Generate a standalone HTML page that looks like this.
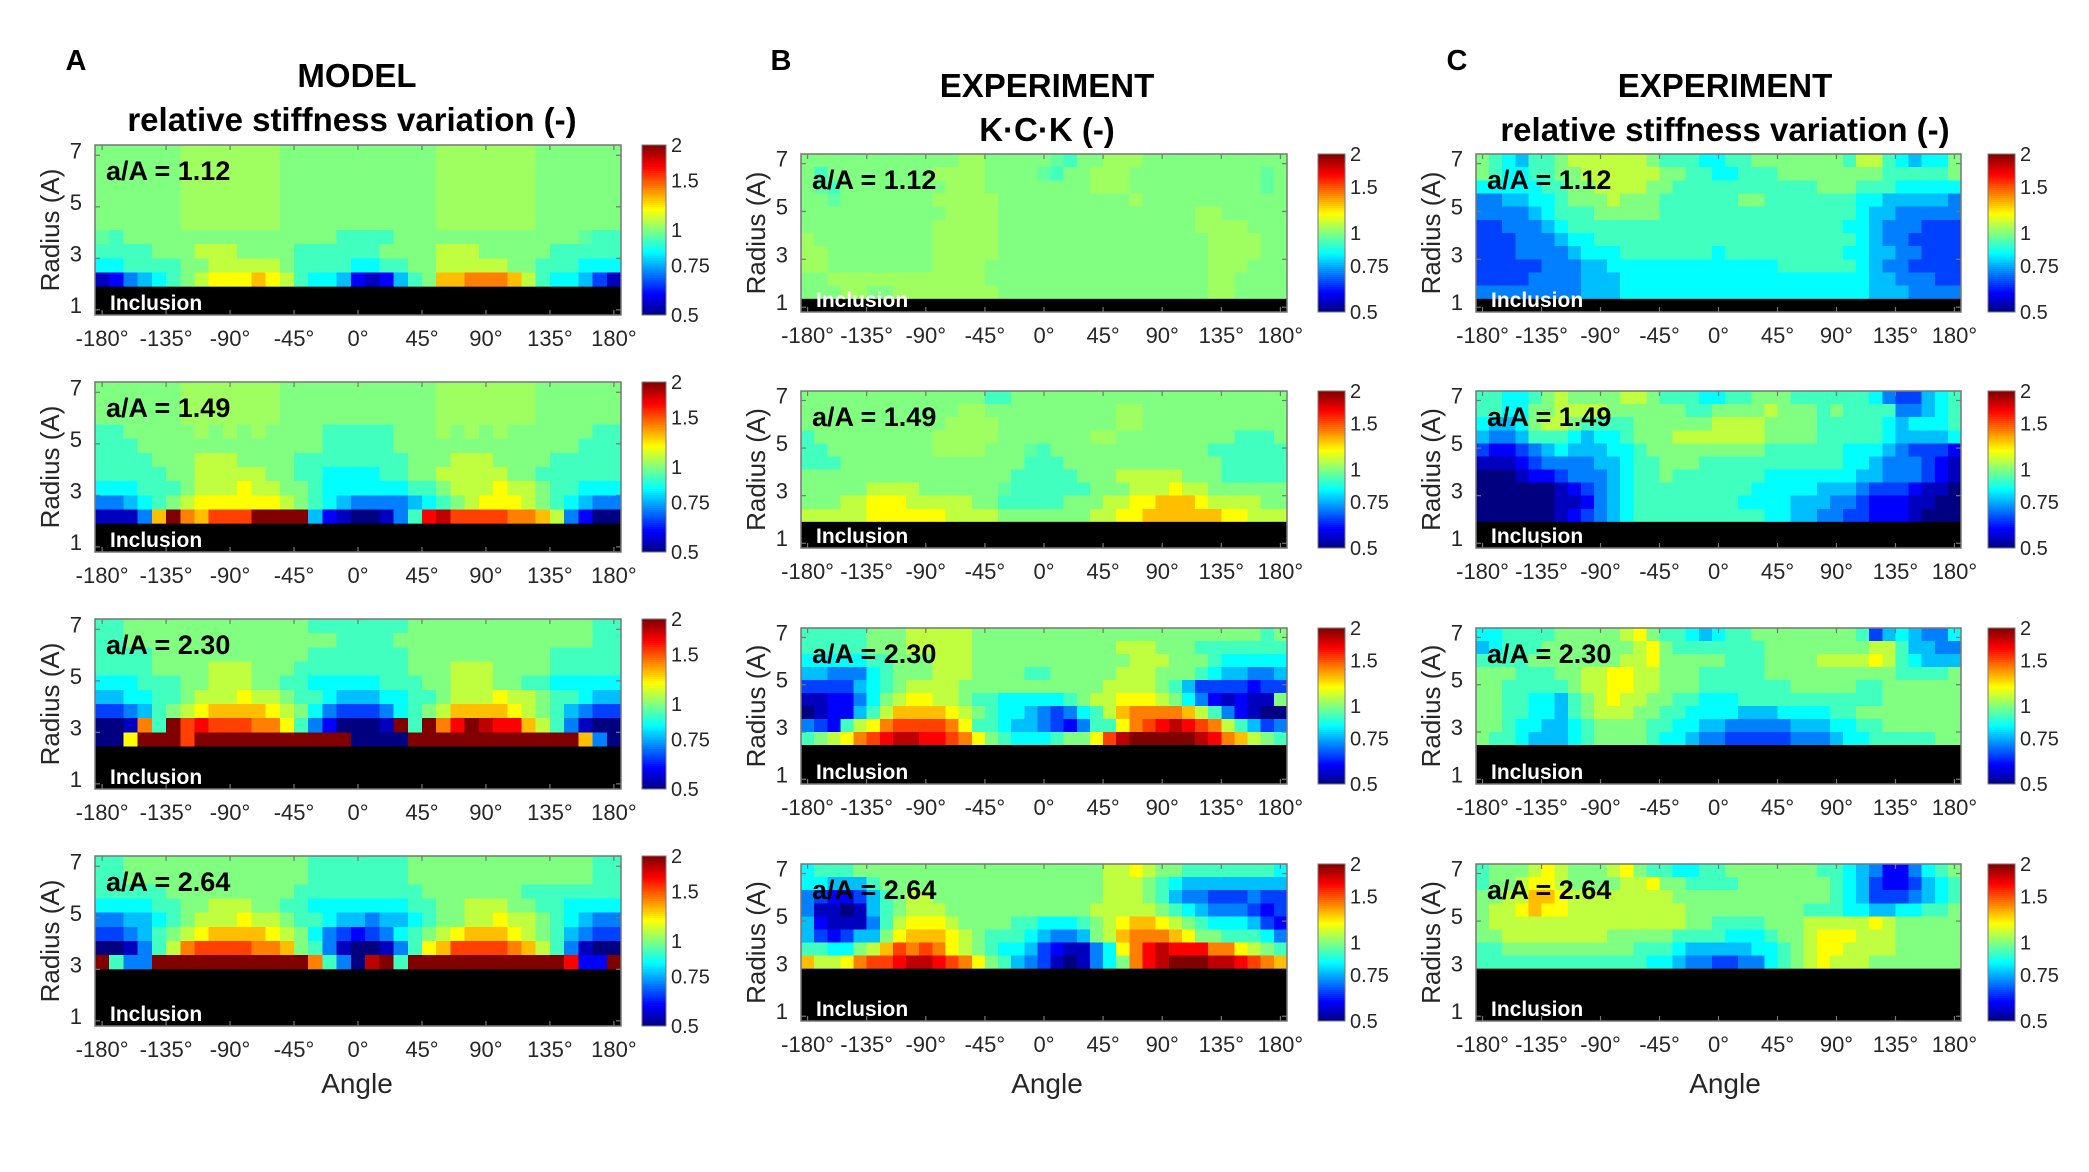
<!DOCTYPE html>
<html><head><meta charset="utf-8"><style>
html,body{margin:0;padding:0;background:#fff;}
svg{display:block;font-family:"Liberation Sans",Arial,sans-serif;}
</style></head><body>
<svg id="fig" width="2089" height="1172" viewBox="0 0 2089 1172" xmlns="http://www.w3.org/2000/svg">
<g>
<text x="76" y="70" font-size="29" font-weight="bold" text-anchor="middle">A</text>
<text x="357" y="87" font-size="33" font-weight="bold" text-anchor="middle">MODEL</text>
<text x="352" y="131" font-size="33" font-weight="bold" text-anchor="middle">relative stiffness variation (-)</text>
<text x="781" y="70" font-size="29" font-weight="bold" text-anchor="middle">B</text>
<text x="1047" y="97" font-size="33" font-weight="bold" text-anchor="middle">EXPERIMENT</text>
<text x="1047" y="141" font-size="33" font-weight="bold" text-anchor="middle">K·C·K (-)</text>
<text x="1457" y="70" font-size="29" font-weight="bold" text-anchor="middle">C</text>
<text x="1725" y="97" font-size="33" font-weight="bold" text-anchor="middle">EXPERIMENT</text>
<text x="1725" y="141" font-size="33" font-weight="bold" text-anchor="middle">relative stiffness variation (-)</text>
<text x="357" y="1093" font-size="28" text-anchor="middle" fill="#262626">Angle</text>
<text x="1047" y="1093" font-size="28" text-anchor="middle" fill="#262626">Angle</text>
<text x="1725" y="1093" font-size="28" text-anchor="middle" fill="#262626">Angle</text>
</g>
</svg>
<script>
const xTicks = [-180,-135,-90,-45,0,45,90,135,180];
const yTicks = [1,3,5,7];
const cbTicks = [0.5,0.75,1,1.5,2];
const cbLabels = ["0.5","0.75","1","1.5","2"];
const ratioLabels = ["a/A = 1.12","a/A = 1.49","a/A = 2.30","a/A = 2.64"];
// value codes: d in 0..g  -> value = 2^(2*d/16 - 1); 'p' = 7.5, 'q' = 8.5
const modelA1 = [
"888888qqqqqqq88888888888qqqqqqq888888","888888qqqqqqq88888888888qqqqqqq888888","888888qqqqqqq88888888888qqqqqqq888888",
"888888qqqqqqq88888888888qqqqqqq888888","888888qqqqqqq88888888888qqqqqqq888888","888888qqqqqqq88888888888qqqqqqq888888",
"p788888888888888877778888888888888p77","7777888999888877777788889998888877777","6677778899999877776677889999988777666",
"12456789aaaba97665212578bbcccb9766531"];
const modelA2 = [
"888888qqqqqqq88888888888qqqqqqq888888","888888qqqqqqq88888888888qqqqqqq888888","888888qqqqqqq88888888888qqqqqqq888888",
"7788888q8q8q888877777888q8q8q88888877","7778888888888888777778888888888888777","7777888999888877777777888999888877777",
"7777788999998877666677889999988777777","6667778999a99887666666778999a99877666","4456789aaaaaa98765444456789aaa9876544",
"1114bgcbdddgggg52100147efddddccb94200"];
const modelA3 = [
"7788888888888887777777888888888888877","7788888888888888877778888888888888877","7777888888888887777777888888888877777",
"7777888899988877777777888999888877777","6667778899988776666677788999887766666","5566778999a99877655566778999a99877655",
"3345789abbbba986433346789bbbba9875433","001c7gdedddcca7420001g7gcegfeeb974100","00agggdggggggggggg0000ggggggggggggb400"];
const modelA4 = [
"7788888888888887777777888888888888877","7788888888888887777777888888888888877","7777788888888877777777788888887777777",
"6666778899988776666666778899988776666","4455678999a99877655455678899a99876544","3345789abbbba986432346789abbba9875433",
"001479cddddccb874100147abddddcb974100","g744"+"ggggggggggg"+"c740fg7"+"ggggggggggg"+"e22g"];
const expB1 = [
"888888888888qq88888p788qqq88888888888","8788888888qqqq8888p788qqq8888888888p8","8p788888888qqq88888888qqq8888888888p8",
"88p8888888qqqqq8888888888q88888888888","88888888888qqqq888888888888888qq88888","8888888888qqqqq888888888888888qqqq888",
"q888888888qqqqq8888888888888888qqqq88","qq88888888qqqqq8888888888888888qqqq88","qq88888888qqqq88888888888888888qqq888",
"88qqqqqqqqqqqq88888888888888888qq8888","888qq88qqqqqqqq8888888888888888qq8888"];
const expB2 = [
"8888888888888877888888888888888888888","888888888888qq8888888888qq88888888888","88888888888qqqq888888888qq88888888888",
"7888888888qqqqq8888888qq8888888887778","7788888888qqqq888p7888888888888777777","7778888888888888877788888888888877777",
"8888888888888888777778889999988877777","888889999888888p777777888999a99888888","88899aaa99999887777788899aabbba999988",
"99999aaaaaa9999888888899aabbbbbbaa999"];
const expB3 = [
"7777788899999888888888888888888888878","7777788899999888888888889998887777777","6666677888999888888888888999888766666",
"5544467888999888877888889998887655445","3333567899998888888888899998753333233","1122468"+"9aa998"+"77666667"+"899aaa98"+"6421211",
"0122579"+"bbbba98"+"766543"+"4679"+"bccccb9"+"742100","4327"+"9acdddd"+"ca776554"+"3247"+"7acdefed"+"c97534",
"789acdeffeedca87666788adfgggggfecb987"];
const expB4 = [
"6777888"+"8888888"+"888888"+"8889"+"9a98877"+"777776","6655578"+"8888888"+"888888"+"8889"+"9987655"+"555555",
"4322357"+"8998888"+"888888"+"8889"+"9987544"+"333433","4110157"+"8999888"+"888888"+"8899"+"9998765"+"444323",
"5211147"+"9aaa988"+"887766"+"6789"+"abba987"+"666532","5323558"+"abbba98"+"777654"+"4589"+"bcccba8"+"877764",
"776689b"+"dcdca98"+"766532"+"1146"+"acefeee"+"cca987","b99acdd"+"effedca"+"875431"+"0146"+"8cefggg"+"ffedcb"];
const expC1 = [
"8765778999999877766778888888799765668","8766778899999988776677788888888777778","6666677889999887777777777788877766666",
"4455667888988877777788777777766555554","4444567778888877777777777777765544444","3344456777777777777777777777665444333",
"3334445667777777777777777777765443333","3334444566677777776777777777665544333","3333344455666666666666677777765443333",
"3333444455566666666666666666665544433","4444444455566666666666666666665554444"];
const expC2 = [
"7766789888899877766778887777776433567","7766889999888888778888988878777744567","6556899877778888889999888877777656667",
"5445777656678889999999888877777655556","3223456555667888888888777777666543332","1112344445567788877777777777665444321",
"0001223444567787777777666666655444321","0000001234567777777776666655543332110","0000001124567777777766665554432221100",
"0000001234567777777777665544332221000"];
const expC3 = [
"667777888889a877656778888888873565446","5677788888889a877777778888888899755443","7777888888899a8888877788889999a976555",
"8887778899aa99888777778888888888777788","8877777899aa99888777777788888778888888","8877665789a99887766677777777777888888",
"8877665789998877666655566667788888888","8876655678888776655444445556677888888","8776555678888766544333334445667777788"];
const expC4 = [
"78889a9888"+"9a8776677888888877"+"654224"+"67","7889aa9"+"888899a"+"887777"+"8888"+"8887653"+"223567",
"8899bba"+"9999999"+"988888"+"8888"+"8887653"+"334567","899abaa"+"9999999"+"998888"+"8888"+"8777665"+"566778",
"8999999"+"9999999"+"998877"+"7788"+"899999a"+"988888","8899999"+"9998888"+"877776"+"6678"+"89aaa99"+"988888",
"7788888"+"8888877"+"765555"+"5667"+"89aa999"+"988888","7777777"+"7777776"+"654433"+"4467"+"89a9998"+"888888"];

const NS="http://www.w3.org/2000/svg";
const svg=document.getElementById('fig');
function mk(tag,attrs,parent){const e=document.createElementNS(NS,tag);for(const k in attrs)e.setAttribute(k,attrs[k]);(parent||svg).appendChild(e);return e;}
function codeToValue(c){let d;if(c==='p')d=7.5;else if(c==='q')d=8.5;else d=parseInt(c,17);if(isNaN(d))d=8;return Math.pow(2,2*d/16-1);}
function clamp(x){return Math.max(0,Math.min(1,x));}
function jet(v){const t=clamp((Math.log2(v)+1)/2);
 const r=clamp(1.5-Math.abs(4*t-3)),g=clamp(1.5-Math.abs(4*t-2)),b=clamp(1.5-Math.abs(4*t-1));
 return 'rgb('+Math.round(r*255)+','+Math.round(g*255)+','+Math.round(b*255)+')';}

function drawPanel(px,py,pw,ph,rows,label,cbx,cbw,name){
 const g=mk('g',{});
 
 
 const xs=a=>px+(a+185)/370*pw;
 const ys=r=>py+ph-(r-0.8)/6.6*ph;
 const nInc=12-rows.length;
 const cells=mk('g',{'shape-rendering':'crispEdges'},g);
 
 
 rows.forEach((row,i)=>{
  const k=11-i; const r0=0.8+0.55*k, r1=r0+0.55;
  for(let j=0;j<37;j++){
   const c=row[j]!==undefined?row[j]:'8';
   const v=codeToValue(c);
   const x0=xs(-185+10*j),x1=xs(-175+10*j);
   const cell=mk('rect',{x:x0,y:ys(r1),width:x1-x0+0.6,height:ys(r0)-ys(r1)+0.6,fill:jet(v)},cells);
   
   
  }
 });
 const inc=mk('rect',{x:px,y:ys(0.8+0.55*nInc),width:pw,height:py+ph-ys(0.8+0.55*nInc),fill:'#000'},g);
 
 
 const it=mk('text',{x:px+15,y:py+ph-5,'font-size':21,'font-weight':'bold',fill:'#fff'},g);
 it.textContent='Inclusion';
 
 
 const lt=mk('text',{x:px+11,y:py+35,'font-size':27,'font-weight':'bold',fill:'#000'},g);
 lt.textContent=label;
 
 
 const fr=mk('rect',{x:px,y:py,width:pw,height:ph,fill:'none',stroke:'#777','stroke-width':1.5},g);
 
 
 xTicks.forEach(a=>{
  const x=xs(a);
  mk('line',{x1:x,x2:x,y1:py,y2:py+5,stroke:'#777','stroke-width':1.2},g);
  mk('line',{x1:x,x2:x,y1:py+ph,y2:py+ph-5,stroke:'#777','stroke-width':1.2},g);
  const t=mk('text',{x:x,y:py+ph+31,'font-size':22,'text-anchor':'middle',fill:'#262626'},g);
  t.textContent=a+'°';
  
  
 });
 yTicks.forEach(r=>{
  const y=ys(r);
  mk('line',{x1:px,x2:px+5,y1:y,y2:y,stroke:'#777','stroke-width':1.2},g);
  mk('line',{x1:px+pw,x2:px+pw-5,y1:y,y2:y,stroke:'#777','stroke-width':1.2},g);
  const t=mk('text',{x:px-13,y:y+3,'font-size':22,'text-anchor':'end',fill:'#262626'},g);
  t.textContent=String(r);
  
  
 });
 const yl=mk('text',{x:0,y:0,'font-size':26,'text-anchor':'middle',fill:'#262626',transform:'translate('+(px-36)+','+(py+ph/2)+') rotate(-90)'},g);
 yl.textContent='Radius (A)';
 
 
 const cb=mk('g',{'shape-rendering':'crispEdges'},g);
 
 
 const N=80;
 for(let s=0;s<N;s++){
  const t=(s+0.5)/N; const v=Math.pow(2,2*t-1);
  mk('rect',{x:cbx,y:py+ph-(s+1)/N*ph,width:cbw,height:ph/N+0.6,fill:jet(v)},cb);
 }
 mk('rect',{x:cbx,y:py,width:cbw,height:ph,fill:'none',stroke:'#777','stroke-width':1},cb);
 cbTicks.forEach((v,i)=>{
  const t=(Math.log2(v)+1)/2; const y=py+ph-t*ph;
  const tl=mk('text',{x:cbx+cbw+5,y:y+7,'font-size':20,fill:'#262626'},g);
  tl.textContent=cbLabels[i];
  
  
 });
}
const Ay=[[145,170],[382,170],[619,170],[856,170]];
const By=[[154,158],[391,157],[628,156],[864,157]];
const A=[modelA1,modelA2,modelA3,modelA4],B=[expB1,expB2,expB3,expB4],C=[expC1,expC2,expC3,expC4];
for(let i=0;i<4;i++){
 drawPanel(95,Ay[i][0],526,Ay[i][1],A[i],ratioLabels[i],642,24,'model-heatmap-'+(i+1));
 drawPanel(801,By[i][0],486,By[i][1],B[i],ratioLabels[i],1318,27,'kck-heatmap-'+(i+1));
 drawPanel(1476,By[i][0],485,By[i][1],C[i],ratioLabels[i],1988,27,'exp-stiffness-heatmap-'+(i+1));
}
</script>
</body></html>
